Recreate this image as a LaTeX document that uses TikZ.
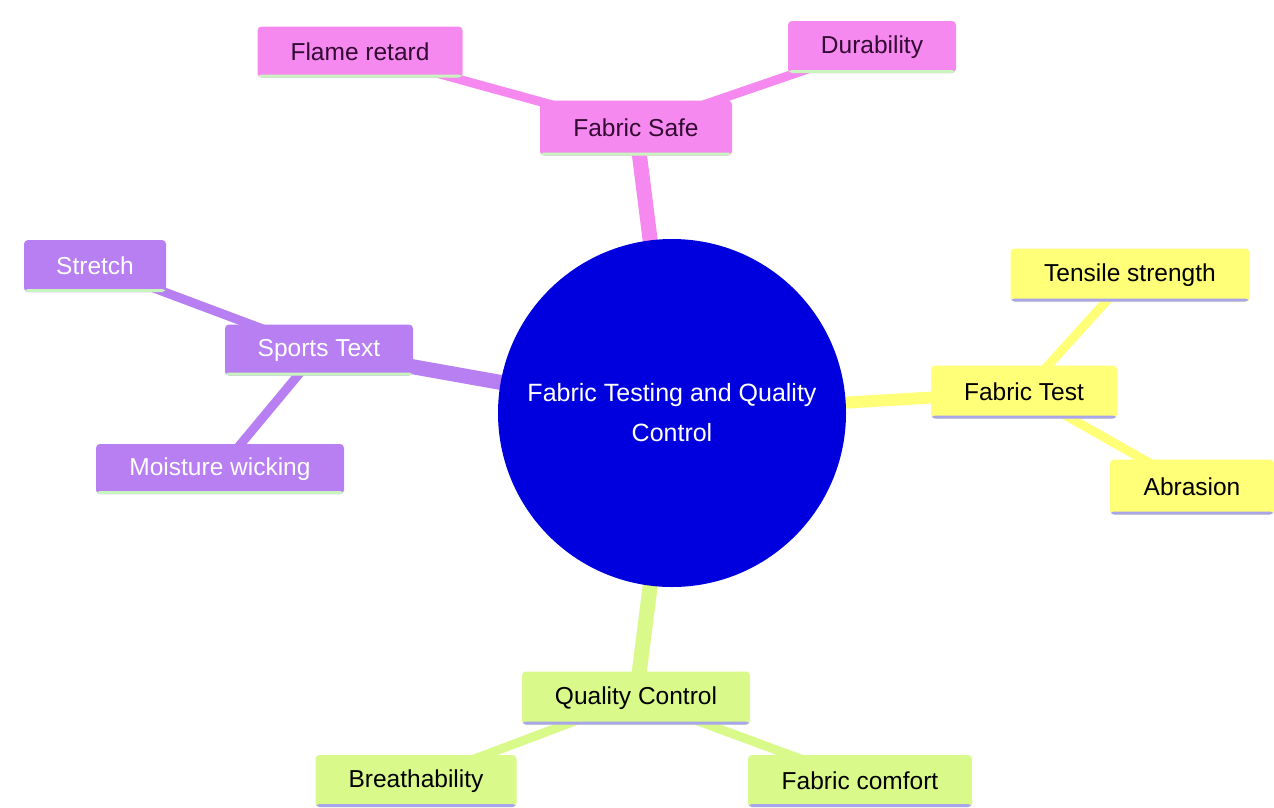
\documentclass[tikz,border=0pt]{standalone}
\usepackage{fontspec}
\setmainfont{Liberation Sans}
\usetikzlibrary{backgrounds}
\definecolor{rootblue}{RGB}{0,0,222}
\definecolor{cpink}{RGB}{246,137,240}
\definecolor{cpurple}{RGB}{183,127,242}
\definecolor{cyellow}{RGB}{255,255,120}
\definecolor{cgreen}{RGB}{217,250,138}
\definecolor{ulgreen}{RGB}{200,245,190}
\definecolor{ullav}{RGB}{168,165,235}
\definecolor{pinktext}{RGB}{50,10,50}
\tikzset{
  box/.style={rectangle, rounded corners=4pt, inner sep=0pt, font=\fontsize{24.5}{28}\selectfont, anchor=center},
  ul/.style={path picture={\fill[#1] ([yshift=-0.5pt]path picture bounding box.south west) rectangle ([yshift=3pt]path picture bounding box.south east);}},
  pinkbox/.style={box, fill=cpink, text=pinktext, ul=ulgreen},
  purplebox/.style={box, fill=cpurple, text=white, ul=ulgreen},
  yellowbox/.style={box, fill=cyellow, text=black, ul=ullav},
  greenbox/.style={box, fill=cgreen, text=black, ul=ullav},
  thick edge/.style={line width=15pt},
  thin edge/.style={line width=9pt},
}
\begin{document}
\begin{tikzpicture}[x=1pt,y=-1pt]
\useasboundingbox (0,0) rectangle (1274,807);
\node[circle, fill=rootblue, minimum size=348pt, inner sep=0pt, text=white, align=center, font=\fontsize{25}{40}\selectfont] (root) at (672,413) {Fabric Testing and Quality\\Control};

\node[pinkbox, minimum width=192pt, minimum height=55pt] (fs) at (636,128) {Fabric Safe};
\node[pinkbox, minimum width=205pt, minimum height=51pt] (fr) at (360,52) {Flame retard};
\node[pinkbox, minimum width=168pt, minimum height=52pt] (du) at (872,47) {Durability};

\node[purplebox, minimum width=188pt, minimum height=51pt] (st) at (319,350) {Sports Text};
\node[purplebox, minimum width=142pt, minimum height=52pt] (sr) at (95,266) {Stretch};
\node[purplebox, minimum width=248pt, minimum height=50pt] (mw) at (220,469) {Moisture wicking};

\node[yellowbox, minimum width=186pt, minimum height=53pt] (ft) at (1024,392) {Fabric Test};
\node[yellowbox, minimum width=239pt, minimum height=53pt] (ts) at (1130,275) {Tensile strength};
\node[yellowbox, minimum width=164pt, minimum height=55pt] (ab) at (1192,487) {Abrasion};

\node[greenbox, minimum width=228pt, minimum height=53pt] (qc) at (636,698) {Quality Control};
\node[greenbox, minimum width=201pt, minimum height=52pt] (br) at (416,781) {Breathability};
\node[greenbox, minimum width=224pt, minimum height=52pt] (fc) at (860,781) {Fabric comfort};

\begin{scope}[on background layer]
\fill[white] (0,0) rectangle (1274,807);
\draw[thick edge, cpink] (root.center) -- (fs.center);
\draw[thin edge, cpink] (fs.center) -- (fr.center);
\draw[thin edge, cpink] (fs.center) -- (du.center);
\draw[thick edge, cpurple] (root.center) -- (st.center);
\draw[thin edge, cpurple] (st.center) -- (sr.center);
\draw[thin edge, cpurple] (st.center) -- (mw.center);
\draw[thick edge, line width=12pt, cyellow] (root.center) -- (ft.center);
\draw[thin edge, cyellow] (ft.center) -- (ts.center);
\draw[thin edge, cyellow] (ft.center) -- (ab.center);
\draw[thick edge, cgreen] (root.center) -- (qc.center);
\draw[thin edge, cgreen] (qc.center) -- (br.center);
\draw[thin edge, cgreen] (qc.center) -- (fc.center);
\end{scope}
\end{tikzpicture}
\end{document}
